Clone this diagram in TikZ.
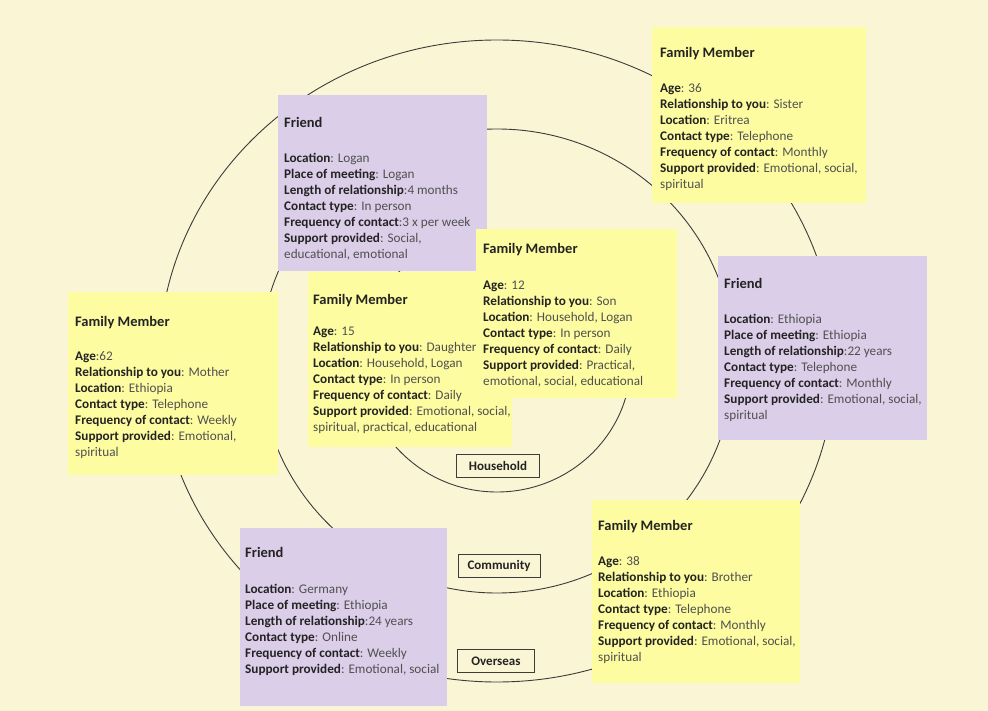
\documentclass[tikz,border=0pt]{standalone}
\usepackage{fontspec}
\setmainfont{Carlito}
\usetikzlibrary{positioning}
\definecolor{paper}{RGB}{250,245,212}
\definecolor{famyellow}{RGB}{254,252,160}
\definecolor{frlilac}{RGB}{219,206,232}
\definecolor{lblcol}{RGB}{35,35,35}
\definecolor{valcol}{RGB}{80,80,80}
\definecolor{ringcol}{RGB}{60,60,60}
\newcommand{\lbl}[1]{{\color{lblcol}\bfseries #1}}
\newcommand{\ttl}[1]{\lbl{\fontsize{14.5}{16}\selectfont #1}}

\begin{document}
\begin{tikzpicture}[x=1pt,y=-1pt,
ring/.style ={draw=ringcol, line width=0.9pt},
ringlabel/.style ={rectangle, draw=ringcol, line width=1pt, fill=paper,
  minimum height=23pt, inner sep=0pt,
  font=\fontsize{13}{14}\selectfont\bfseries, text=lblcol
},
famnote/.style ={rectangle, fill=famyellow, anchor=north west, inner sep=0pt},
frnote/.style ={rectangle, fill=frlilac, anchor=north west, inner sep=0pt},
notetext/.style ={align=left, inner sep=0pt, text=valcol,
  font=\fontsize{13.2}{16}\selectfont
}]
\useasboundingbox (0,0) rectangle (988,711);
\fill[paper] (0,0) rectangle (988,711);

% rings
\coordinate (ctr) at (497,361);
\draw[ring] (ctr) ellipse [x radius=338, y radius=321];
\draw[ring] (ctr) ellipse [x radius=237, y radius=232];
\draw[ring] (ctr) ellipse [x radius=134, y radius=131];
\node (household) at (498,466) [ringlabel, minimum width=83pt] {Household};
\node (community) at (499,566) [ringlabel, minimum width=82pt] {Community};
\node (overseas) at (496,661) [ringlabel, minimum width=77pt] {Overseas};

% notes
\node (sister) at (652,27) [famnote, minimum width=214pt, minimum height=176pt] {};
\node (sistertxt) [notetext, below right=20pt and 8pt of sister.north west] {\ttl{Family Member}\\[19pt]
\lbl{Age}: 36\\
\lbl{Relationship to you}: Sister\\
\lbl{Location}: Eritrea\\
\lbl{Contact type}: Telephone\\
\lbl{Frequency of contact}: Monthly\\
\lbl{Support provided}: Emotional, social,\\
spiritual};

\node (loganfriend) at (278,95) [frnote, minimum width=209pt, minimum height=176pt] {};
\node (logantxt) [notetext, below right=22pt and 6pt of loganfriend.north west] {\ttl{Friend}\\[19pt]
\lbl{Location}: Logan\\
\lbl{Place of meeting}: Logan\\
\lbl{Length of relationship}:4 months\\
\lbl{Contact type}: In person\\
\lbl{Frequency of contact}:3 x per week\\
\lbl{Support provided}: Social,\\
educational, emotional};

\node (mother) at (68,292) [famnote, minimum width=210pt, minimum height=183pt] {};
\node (mothertxt) [notetext, below right=24pt and 7pt of mother.north west] {\ttl{Family Member}\\[18pt]
\lbl{Age}:62\\
\lbl{Relationship to you}: Mother\\
\lbl{Location}: Ethiopia\\
\lbl{Contact type}: Telephone\\
\lbl{Frequency of contact}: Weekly\\
\lbl{Support provided}: Emotional,\\
spiritual};

\node (daughter) at (308,272) [famnote, minimum width=204pt, minimum height=175pt] {};
\node (daughtertxt) [notetext, below right=22pt and 5pt of daughter.north west] {\ttl{Family Member}\\[15pt]
\lbl{Age}: 15\\
\lbl{Relationship to you}: Daughter\\
\lbl{Location}: Household, Logan\\
\lbl{Contact type}: In person\\
\lbl{Frequency of contact}: Daily\\
\lbl{Support provided}: Emotional, social,\\
spiritual, practical, educational};

\node (son) at (476,229) [famnote, minimum width=201pt, minimum height=169pt] {};
\node (sontxt) [notetext, below right=14pt and 7pt of son.north west] {\ttl{Family Member}\\[20pt]
\lbl{Age}: 12\\
\lbl{Relationship to you}: Son\\
\lbl{Location}: Household, Logan\\
\lbl{Contact type}: In person\\
\lbl{Frequency of contact}: Daily\\
\lbl{Support provided}: Practical,\\
emotional, social, educational};

\node (ethfriend) at (718,256) [frnote, minimum width=209pt, minimum height=184pt] {};
\node (ethtxt) [notetext, below right=22pt and 6pt of ethfriend.north west] {\ttl{Friend}\\[19pt]
\lbl{Location}: Ethiopia\\
\lbl{Place of meeting}: Ethiopia\\
\lbl{Length of relationship}:22 years\\
\lbl{Contact type}: Telephone\\
\lbl{Frequency of contact}: Monthly\\
\lbl{Support provided}: Emotional, social,\\
spiritual};

\node (gerfriend) at (240,528) [frnote, minimum width=207pt, minimum height=178pt] {};
\node (gertxt) [notetext, below right=19pt and 5pt of gerfriend.north west] {\ttl{Friend}\\[20pt]
\lbl{Location}: Germany\\
\lbl{Place of meeting}: Ethiopia\\
\lbl{Length of relationship}:24 years\\
\lbl{Contact type}: Online\\
\lbl{Frequency of contact}: Weekly\\
\lbl{Support provided}: Emotional, social};

\node (brother) at (592,500) [famnote, minimum width=208pt, minimum height=183pt] {};
\node (brothertxt) [notetext, below right=20pt and 6pt of brother.north west] {\ttl{Family Member}\\[19pt]
\lbl{Age}: 38\\
\lbl{Relationship to you}: Brother\\
\lbl{Location}: Ethiopia\\
\lbl{Contact type}: Telephone\\
\lbl{Frequency of contact}: Monthly\\
\lbl{Support provided}: Emotional, social,\\
spiritual};
\end{tikzpicture}
\end{document}
